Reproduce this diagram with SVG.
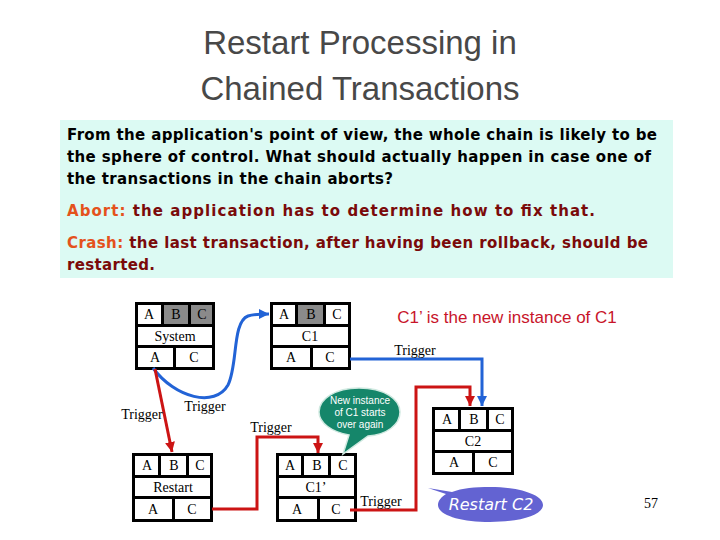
<svg xmlns="http://www.w3.org/2000/svg" width="720" height="540" viewBox="0 0 720 540">
<style>
.title{font-family:"Liberation Sans",Arial,sans-serif;font-size:33px;fill:#484848;text-anchor:middle}
.body{font-family:"DejaVu Sans","Liberation Sans",sans-serif;font-weight:bold;font-size:15px}
.blk{fill:#000}
.org{fill:#e4521c}
.red{fill:#7a0a0a}
.frame{fill:#000}
.cell{fill:#fff}
.grey{fill:#8a8a8a}
.lbl{font-family:"Liberation Serif","Times New Roman",serif;font-size:14px;fill:#000;text-anchor:middle}
.trig{font-family:"Liberation Serif","Times New Roman",serif;font-size:14px;fill:#000;text-anchor:middle}
.bl{fill:none;stroke:#2263d6;stroke-width:3}
.rd{fill:none;stroke:#cc1414;stroke-width:3}
.bub{font-family:"Liberation Sans",Arial,sans-serif;font-size:10px;fill:#fff;text-anchor:middle}
</style>
<defs>
<marker id="ab" markerUnits="userSpaceOnUse" markerWidth="12" markerHeight="12" refX="10" refY="5" orient="auto"><path d="M0,0 L10,5 L0,10 Z" fill="#2263d6"/></marker>
<marker id="ar" markerUnits="userSpaceOnUse" markerWidth="12" markerHeight="12" refX="10" refY="5" orient="auto"><path d="M0,0 L10,5 L0,10 Z" fill="#cc1414"/></marker>
</defs>
<rect width="720" height="540" fill="#fff"/>
<text class="title" x="360" y="54">Restart Processing in</text>
<text class="title" x="360" y="100">Chained Transactions</text>
<g id="textbox">
<rect x="60" y="120" width="613" height="158" fill="#dcfaf3"/>
<text class="body blk" x="67" y="140" textLength="590" lengthAdjust="spacing">From the application's point of view, the whole chain is likely to be</text>
<text class="body blk" x="67" y="162" textLength="584" lengthAdjust="spacing">the sphere of control. What should actually happen in case one of</text>
<text class="body blk" x="67" y="184" textLength="326" lengthAdjust="spacing">the transactions in the chain aborts?</text>
<text class="body" x="67" y="216" textLength="528" lengthAdjust="spacing"><tspan class="org">Abort:</tspan><tspan class="red"> the application has to determine how to fix that.</tspan></text>
<text class="body" x="67" y="248" textLength="581" lengthAdjust="spacing"><tspan class="org">Crash:</tspan><tspan class="red"> the last transaction, after having been rollback, should be</tspan></text>
<text class="body red" x="67" y="270" textLength="88" lengthAdjust="spacing">restarted.</text>
</g>
<text x="507" y="323" font-family="Liberation Sans,Arial,sans-serif" font-size="17" fill="#c8142a" text-anchor="middle">C1’ is the new instance of C1</text>
<g id="system">
<rect class="frame" x="135" y="302" width="80" height="68"/>
<rect class="cell" x="138" y="305" width="23" height="19"/>
<rect class="grey" x="164" y="305" width="24" height="19"/>
<rect class="grey" x="191" y="305" width="21" height="19"/>
<rect class="cell" x="138" y="327" width="74" height="18"/>
<rect class="cell" x="138" y="348" width="35" height="19"/>
<rect class="cell" x="176" y="348" width="36" height="19"/>
<text class="lbl" x="149" y="319">A</text><text class="lbl" x="176" y="319">B</text><text class="lbl" x="202" y="319">C</text>
<text class="lbl" x="175" y="341">System</text>
<text class="lbl" x="155" y="362">A</text><text class="lbl" x="194" y="362">C</text>
</g>
<g id="c1">
<rect class="frame" x="270" y="302" width="81" height="68"/>
<rect class="cell" x="273" y="305" width="22" height="19"/>
<rect class="grey" x="298" y="305" width="25" height="19"/>
<rect class="cell" x="326" y="305" width="22" height="19"/>
<rect class="cell" x="273" y="327" width="75" height="18"/>
<rect class="cell" x="273" y="348" width="37" height="19"/>
<rect class="cell" x="313" y="348" width="35" height="19"/>
<text class="lbl" x="284" y="319">A</text><text class="lbl" x="311" y="319">B</text><text class="lbl" x="337" y="319">C</text>
<text class="lbl" x="310" y="341">C1</text>
<text class="lbl" x="291" y="362">A</text><text class="lbl" x="330" y="362">C</text>
</g>
<g id="c2">
<rect class="frame" x="432" y="407" width="82" height="68"/>
<rect class="cell" x="435" y="410" width="23" height="19"/>
<rect class="cell" x="461" y="410" width="25" height="19"/>
<rect class="cell" x="489" y="410" width="22" height="19"/>
<rect class="cell" x="435" y="432" width="76" height="18"/>
<rect class="cell" x="435" y="453" width="37" height="19"/>
<rect class="cell" x="475" y="453" width="36" height="19"/>
<text class="lbl" x="447" y="424">A</text><text class="lbl" x="474" y="424">B</text><text class="lbl" x="500" y="424">C</text>
<text class="lbl" x="473" y="446">C2</text>
<text class="lbl" x="454" y="467">A</text><text class="lbl" x="493" y="467">C</text>
</g>
<g id="restart">
<rect class="frame" x="132" y="453" width="81" height="69"/>
<rect class="cell" x="135" y="456" width="23" height="19"/>
<rect class="cell" x="161" y="456" width="25" height="19"/>
<rect class="cell" x="189" y="456" width="21" height="19"/>
<rect class="cell" x="135" y="478" width="75" height="18"/>
<rect class="cell" x="135" y="499" width="37" height="20"/>
<rect class="cell" x="175" y="499" width="35" height="20"/>
<text class="lbl" x="147" y="470">A</text><text class="lbl" x="174" y="470">B</text><text class="lbl" x="200" y="470">C</text>
<text class="lbl" x="173" y="492">Restart</text>
<text class="lbl" x="153" y="514">A</text><text class="lbl" x="192" y="514">C</text>
</g>
<g id="c1prime">
<rect class="frame" x="276" y="453" width="81" height="69"/>
<rect class="cell" x="279" y="456" width="22" height="19"/>
<rect class="cell" x="304" y="456" width="24" height="19"/>
<rect class="cell" x="331" y="456" width="23" height="19"/>
<rect class="cell" x="279" y="478" width="75" height="18"/>
<rect class="cell" x="279" y="499" width="38" height="20"/>
<rect class="cell" x="320" y="499" width="34" height="20"/>
<text class="lbl" x="290" y="470">A</text><text class="lbl" x="317" y="470">B</text><text class="lbl" x="343" y="470">C</text>
<text class="lbl" x="316" y="492">C1’</text>
<text class="lbl" x="297" y="514">A</text><text class="lbl" x="336" y="514">C</text>
</g>
<g id="bubble-new">
<path d="M359,388 C384,388 400,399 400,412 C400,425 386,435 368,436 L343,454 L349,435 C332,432 319,423 319,412 C319,399 335,388 359,388 Z" fill="#15866a" stroke="#cfe9e0" stroke-width="1.5"/>
<text class="bub" x="360" y="404">New instance</text>
<text class="bub" x="360" y="416">of C1 starts</text>
<text class="bub" x="360" y="428">over again</text>
</g>
<g id="bubble-restart">
<path d="M428,488 L452,492 C462,488 475,487 490,487 C520,487 543,495 543,505 C543,515 520,522 490,522 C460,522 438,515 438,505 C438,501 441,497 446,494 Z" fill="#6363d2"/>
<text x="491" y="510" font-family="DejaVu Sans,Liberation Sans,sans-serif" font-style="italic" font-size="16" fill="#fff" text-anchor="middle">Restart C2</text>
</g>
<g id="connectors">
<path class="bl" d="M153,368 C175,398 215,408 228,385 C238,365 232,322 248,316 C254,314 260,314 269,314" marker-end="url(#ab)"/>
<path class="rd" d="M155,369 L172,452" marker-end="url(#ar)"/>
<path class="rd" d="M212,509 L257,509 L257,437 L318,437 L318,453" marker-end="url(#ar)"/>
<path class="bl" d="M350,359 L482,359 L482,406" marker-end="url(#ab)"/>
<path class="rd" d="M350,510 L416,510 L416,387 L470,387 L470,406" marker-end="url(#ar)"/>
<text class="trig" x="142" y="419">Trigger</text>
<text class="trig" x="205" y="411">Trigger</text>
<text class="trig" x="271" y="432">Trigger</text>
<text class="trig" x="415" y="355">Trigger</text>
<text class="trig" x="381" y="506">Trigger</text>
</g>
<text x="651" y="508" font-family="Liberation Serif,serif" font-size="14" fill="#000" text-anchor="middle">57</text>
</svg>
